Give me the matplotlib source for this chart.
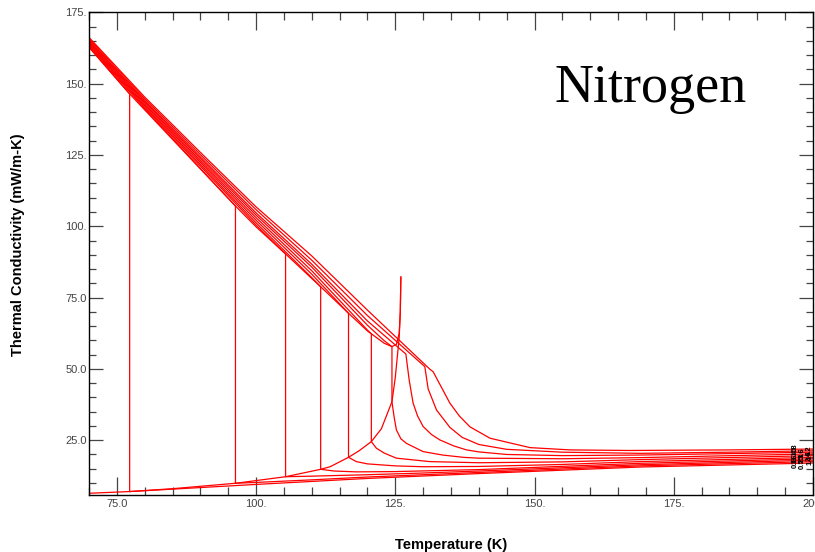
"""
Nitrogen thermal conductivity isobars vs temperature
"""

import matplotlib.pyplot as plt
from matplotlib.ticker import MultipleLocator, FuncFormatter

plt.rcParams['font.family'] = ['Liberation Sans', 'DejaVu Sans']

# saturated liquid / vapour lines
sat_liq_T = [70, 77.3, 80, 90, 96.3, 100, 105.3, 110, 111.6, 116.6, 120, 120.7, 123, 124.4, 125.2, 125.7, 125.9, 126.0]
sat_liq_k = [162.8, 146.4, 140.8, 120.1, 107.1, 99.8, 90.3, 81.7, 78.8, 69.5, 63.3, 62.3, 59.0, 57.8, 58.6, 62.5, 70.0, 82.2]
sat_vap_T = [70, 77.3, 85, 96.3, 105.3, 111.6, 113.3, 116.6, 118.5, 120.7, 122.5, 124.4, 125.0, 125.4, 125.7, 125.9, 126.0]
sat_vap_k = [6.4, 7.0, 8.0, 9.9, 12.2, 14.8, 15.7, 19.0, 21.3, 24.5, 29.0, 38.5, 47.0, 55.0, 61.0, 70.0, 82.2]

# subcritical isobars (liquid branch, jump at Tsat, vapour branch)
p1_T = [70, 77.3, 77.3, 90, 100, 120, 140, 169, 200]
p1_k = [162.8, 146.4, 7.0, 8.4, 9.5, 11.6, 13.3, 15.6, 17.0]
p2_T = [70, 80, 90, 96.3, 96.3, 100, 110, 120, 140, 169, 200]
p2_k = [163.2, 141.2, 120.3, 107.1, 9.9, 10.2, 11.1, 12.1, 13.7, 16.0, 17.5]
p3_T = [70, 80, 90, 100, 105.3, 105.3, 110, 120, 130, 140, 169, 200]
p3_k = [163.6, 141.7, 121.1, 100.4, 90.3, 12.2, 12.4, 12.9, 13.5, 14.2, 16.4, 18.0]
p4_T = [70, 80, 90, 100, 110, 111.6, 111.6, 114, 118, 125, 140, 169, 200]
p4_k = [163.9, 142.2, 121.7, 101.2, 82.0, 78.8, 14.8, 14.2, 13.9, 14.0, 14.7, 16.9, 18.5]
p5_T = [70, 80, 90, 100, 110, 116.6, 116.6, 118, 120, 125, 130, 140, 155, 169, 200]
p5_k = [164.3, 142.7, 122.4, 102.1, 83.2, 69.5, 19.0, 17.5, 16.7, 16.0, 15.7, 15.8, 16.5, 17.5, 19.0]
p6_T = [70, 80, 90, 100, 110, 120, 120.7, 120.7, 121.6, 123, 125.2, 131.2, 140, 155, 169, 200]
p6_k = [164.6, 143.2, 123.0, 103.0, 84.4, 63.6, 62.3, 24.5, 22.2, 20.5, 18.7, 17.5, 17.1, 17.4, 18.2, 19.6]
p7_T = [70, 80, 90, 100, 110, 120, 123, 124.4, 124.4, 124.8, 125.2, 126, 127, 130, 133.5, 137.2, 140, 155, 169, 200]
p7_k = [165.0, 143.7, 123.7, 103.9, 85.7, 65.3, 59.9, 57.8, 38.5, 33.0, 28.6, 25.5, 23.9, 21.0, 19.8, 19.0, 18.7, 18.5, 18.9, 20.2]

# supercritical isobars
s1_T = [70, 80, 90, 100, 110, 120, 126.9, 127.5, 128.2, 129, 130, 131.5, 133, 135.5, 137.8, 140, 145, 155, 169, 185, 200]
s1_k = [165.3, 144.1, 124.3, 104.7, 86.7, 66.8, 55.2, 46.0, 38.0, 33.5, 29.8, 27.0, 25.1, 23.0, 21.6, 20.9, 20.0, 19.6, 19.8, 20.3, 20.8]
s2_T = [70, 80, 90, 100, 110, 120, 130.3, 130.9, 132.4, 134.8, 137, 140, 145, 155, 169, 185, 200]
s2_k = [165.8, 144.7, 125.1, 105.8, 88.1, 68.7, 50.8, 43.0, 35.6, 29.5, 26.0, 23.5, 21.8, 20.8, 20.4, 20.8, 21.3]
s3_T = [70, 80, 90, 100, 110, 120, 131.2, 131.8, 133.3, 134.8, 136.5, 138.4, 142, 149.2, 156.4, 167, 185, 200]
s3_k = [166.2, 145.3, 125.9, 106.8, 89.6, 70.6, 49.9, 49.0, 43.5, 38.0, 33.5, 29.7, 25.7, 22.4, 21.6, 21.4, 21.6, 21.9]

iso_labels = ['0.1', '0.55', '1.1', '1.6', '2.1', '2.6', '3.15', '3.6', '4.2', '4.8']

isobars = [(p1_T, p1_k), (p2_T, p2_k), (p3_T, p3_k), (p4_T, p4_k), (p5_T, p5_k),
           (p6_T, p6_k), (p7_T, p7_k), (s1_T, s1_k), (s2_T, s2_k), (s3_T, s3_k)]


def tick_fmt(v, pos):
    if v < 100:
        return f'{v:.1f}'
    return f'{int(round(v))}.'


fig = plt.figure(figsize=(8.15, 5.52), dpi=100)
ax = fig.add_axes([0.1092, 0.1033, 0.8883, 0.8744])

red = '#ff0000'
ax.plot(sat_liq_T, sat_liq_k, color=red, lw=0.9)
ax.plot(sat_vap_T, sat_vap_k, color=red, lw=0.9)
for T, k in isobars:
    ax.plot(T, k, color=red, lw=0.9)

# small pressure labels at the end of each isobar
for i, ((T, k), lab) in enumerate(zip(isobars, iso_labels)):
    ax.text(196.8 + (i % 3) * 1.3, k[-1], lab, fontsize=5.5, fontweight='bold',
            color='black', ha='center', va='center', rotation=90, clip_on=False)

ax.set_xlim(70, 200)
ax.set_ylim(5.8, 175)

ax.xaxis.set_major_locator(MultipleLocator(25))
ax.xaxis.set_minor_locator(MultipleLocator(5))
ax.yaxis.set_major_locator(MultipleLocator(25))
ax.yaxis.set_minor_locator(MultipleLocator(5))
ax.xaxis.set_major_formatter(FuncFormatter(tick_fmt))
ax.yaxis.set_major_formatter(FuncFormatter(tick_fmt))

ax.tick_params(axis='both', which='both', direction='in', top=True, right=True,
               colors='#444444', labelsize=8, width=0.9)
ax.tick_params(axis='x', which='major', length=13.3, pad=3)
ax.tick_params(axis='x', which='minor', length=6)
ax.tick_params(axis='y', which='major', length=10, pad=1.5)
ax.tick_params(axis='y', which='minor', length=5)
for s in ax.spines.values():
    s.set_color('black')
    s.set_linewidth(1.0)

ax.set_xlabel('Temperature (K)', fontsize=10.5, fontweight='bold')
ax.xaxis.set_label_coords(0.5, -0.1036)
ax.xaxis.label.set_va('center')
ax.set_ylabel('Thermal Conductivity (mW/m-K)', fontsize=10.5, fontweight='bold')
ax.yaxis.set_label_coords(-0.098, 0.518)
ax.yaxis.label.set_va('center')

ax.text(0.6436, 0.814, 'Nitrogen', transform=ax.transAxes, fontsize=39,
        family='Liberation Serif', va='baseline', ha='left')

plt.savefig('out.png', dpi=100)
